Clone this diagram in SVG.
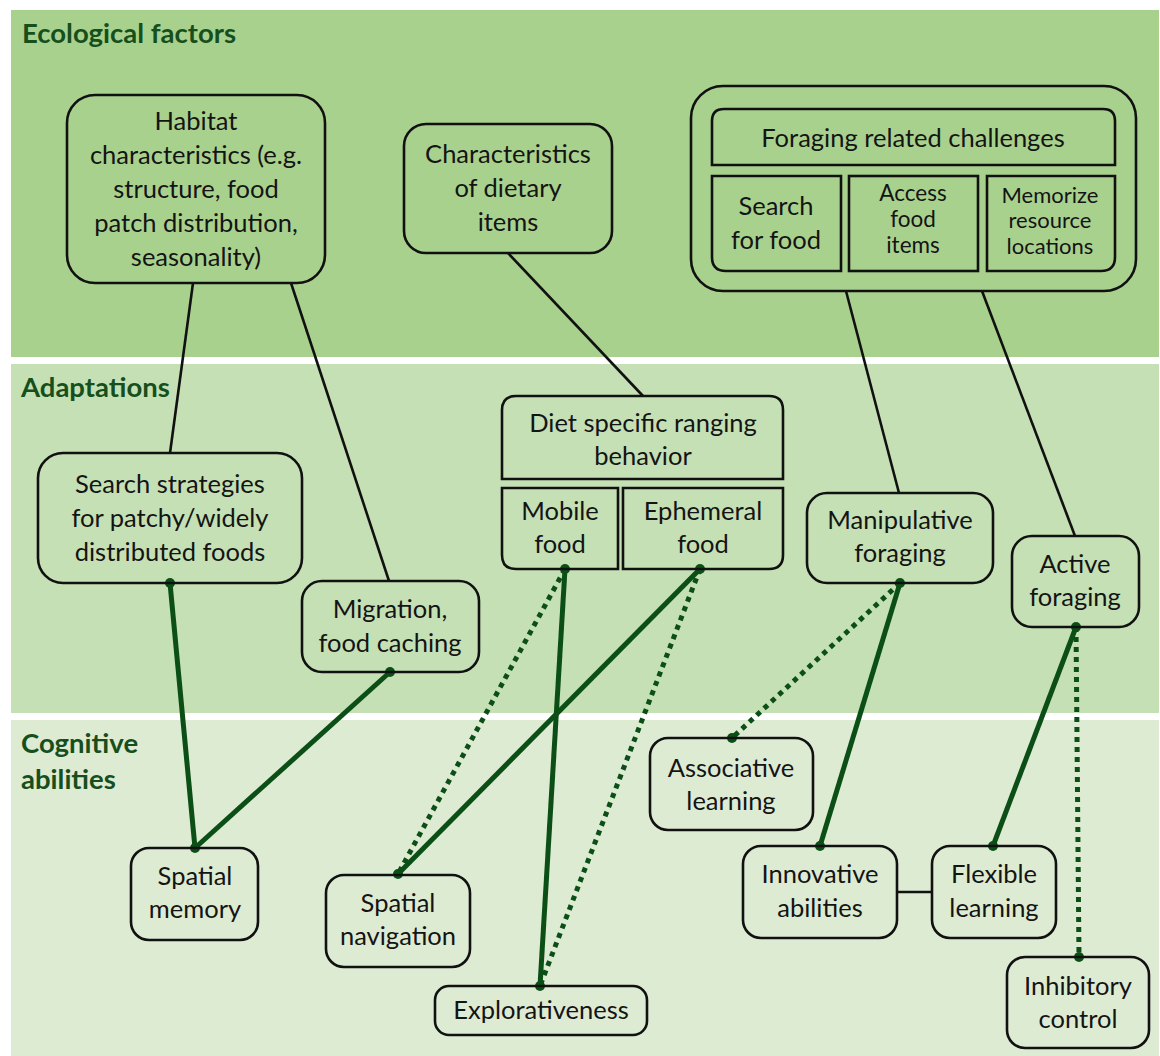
<svg xmlns="http://www.w3.org/2000/svg" width="1160" height="1056" viewBox="0 0 1160 1056">
<style>
.band-title{font-family:Lato,"Liberation Sans",sans-serif;font-weight:bold;font-size:27.5px;fill:#174f1c}
.t{font-family:Lato,"Liberation Sans",sans-serif;font-size:25.5px;fill:#141414;text-anchor:middle}
.ta{font-family:Lato,"Liberation Sans",sans-serif;font-size:22.5px;fill:#141414;text-anchor:middle}
.ts{font-family:Lato,"Liberation Sans",sans-serif;font-size:22px;fill:#141414;text-anchor:middle}
.box{fill:none;stroke:#111;stroke-width:2.6}
.blk{stroke:#111;stroke-width:2.6;fill:none}
.g{stroke:#0b4f17;stroke-width:5;fill:none}
.gd{stroke:#0b4f17;stroke-width:5;fill:none;stroke-dasharray:5 5}
.dot{fill:#0b4f17}
</style>
<rect width="1160" height="1056" fill="#ffffff"/>
<g id="bands">
<rect x="11" y="10" width="1148" height="347" fill="#a9d18e"/>
<rect x="11" y="364" width="1148" height="349" fill="#c5e0b4"/>
<rect x="11" y="720" width="1148" height="336" fill="#deebd3"/>
<text class="band-title" x="22" y="43">Ecological factors</text>
<text class="band-title" x="21" y="397">Adaptations</text>
<text class="band-title" x="21" y="753">Cognitive</text>
<text class="band-title" x="21" y="789">abilities</text>
</g>
<g id="connectors">
<line class="blk" x1="193" y1="283" x2="170" y2="453"/>
<line class="blk" x1="291" y1="283" x2="389" y2="581"/>
<line class="blk" x1="508" y1="253" x2="643" y2="396"/>
<line class="blk" x1="846" y1="291" x2="899" y2="493"/>
<line class="blk" x1="982" y1="291" x2="1075" y2="536"/>
<line class="blk" x1="897" y1="892" x2="932" y2="892"/>
<line class="g" x1="170" y1="583" x2="195" y2="848"/>
<line class="g" x1="390" y1="672" x2="195" y2="848"/>
<line class="gd" x1="565" y1="569" x2="398" y2="874"/>
<line class="g" x1="565" y1="569" x2="540" y2="986"/>
<line class="g" x1="700" y1="569" x2="398" y2="874"/>
<line class="gd" x1="700" y1="569" x2="540" y2="986"/>
<line class="gd" x1="900" y1="583" x2="732" y2="738"/>
<line class="g" x1="900" y1="583" x2="820" y2="846"/>
<line class="g" x1="1076" y1="627" x2="993" y2="846"/>
<line class="gd" x1="1076" y1="627" x2="1079" y2="957"/>
<circle class="dot" cx="170" cy="583" r="5"/>
<circle class="dot" cx="195" cy="848" r="5"/>
<circle class="dot" cx="390" cy="672" r="5"/>
<circle class="dot" cx="565" cy="569" r="5"/>
<circle class="dot" cx="700" cy="569" r="5"/>
<circle class="dot" cx="398" cy="874" r="5"/>
<circle class="dot" cx="540" cy="986" r="5"/>
<circle class="dot" cx="900" cy="583" r="5"/>
<circle class="dot" cx="732" cy="738" r="5"/>
<circle class="dot" cx="820" cy="846" r="5"/>
<circle class="dot" cx="1076" cy="627" r="5"/>
<circle class="dot" cx="993" cy="846" r="5"/>
<circle class="dot" cx="1079" cy="957" r="5"/>
</g>
<g id="habitat">
<rect class="box" x="67" y="95" width="258" height="188" rx="28"/>
<text class="t" x="196" y="130">Habitat</text>
<text class="t" x="196" y="164">characteristics (e.g.</text>
<text class="t" x="196" y="198">structure, food</text>
<text class="t" x="196" y="232">patch distribution,</text>
<text class="t" x="196" y="266">seasonality)</text>
</g>
<g id="dietary">
<rect class="box" x="404" y="124" width="208" height="129" rx="22"/>
<text class="t" x="508" y="163">Characteristics</text>
<text class="t" x="508" y="197">of dietary</text>
<text class="t" x="508" y="231">items</text>
</g>
<g id="foraging-challenges">
<rect class="box" x="691" y="86" width="445" height="205" rx="32"/>
<path class="box" d="M712,165 V121 Q712,109 724,109 H1103 Q1115,109 1115,121 V165 Z"/>
<text class="t" x="913" y="147">Foraging related challenges</text>
<path class="box" d="M712,176 H841 V271 H726 Q712,271 712,257 Z"/>
<text class="t" x="776" y="215">Search</text>
<text class="t" x="776" y="249">for food</text>
<rect class="box" x="849" y="176" width="129" height="95"/>
<text class="ta" x="913" y="201">Access</text>
<text class="ta" x="913" y="227">food</text>
<text class="ta" x="913" y="253">items</text>
<path class="box" d="M987,176 H1115 V257 Q1115,271 1101,271 H987 Z"/>
<text class="ts" x="1050" y="203">Memorize</text>
<text class="ts" x="1050" y="228">resource</text>
<text class="ts" x="1050" y="254">locations</text>
</g>
<g id="search-strategies">
<rect class="box" x="38" y="453" width="264" height="130" rx="25"/>
<text class="t" x="170" y="493">Search strategies</text>
<text class="t" x="170" y="527">for patchy/widely</text>
<text class="t" x="170" y="561">distributed foods</text>
</g>
<g id="migration">
<rect class="box" x="302" y="581" width="177" height="91" rx="20"/>
<text class="t" x="390" y="618">Migration,</text>
<text class="t" x="390" y="652">food caching</text>
</g>
<g id="diet-ranging">
<path class="box" d="M502,479 V410 Q502,396 516,396 H769 Q783,396 783,410 V479 Z"/>
<text class="t" x="643" y="432">Diet specific ranging</text>
<text class="t" x="643" y="465">behavior</text>
<path class="box" d="M502,488 H618 V569 H516 Q502,569 502,555 Z"/>
<text class="t" x="560" y="520">Mobile</text>
<text class="t" x="560" y="553">food</text>
<path class="box" d="M623,488 H783 V555 Q783,569 769,569 H623 Z"/>
<text class="t" x="703" y="520">Ephemeral</text>
<text class="t" x="703" y="553">food</text>
</g>
<g id="manipulative">
<rect class="box" x="807" y="493" width="186" height="90" rx="20"/>
<text class="t" x="900" y="529">Manipulative</text>
<text class="t" x="900" y="562">foraging</text>
</g>
<g id="active">
<rect class="box" x="1012" y="536" width="127" height="91" rx="20"/>
<text class="t" x="1075" y="573">Active</text>
<text class="t" x="1075" y="606">foraging</text>
</g>
<g id="spatial-memory">
<rect class="box" x="131" y="848" width="127" height="92" rx="18"/>
<text class="t" x="195" y="885">Spatial</text>
<text class="t" x="195" y="918">memory</text>
</g>
<g id="spatial-navigation">
<rect class="box" x="326" y="875" width="144" height="92" rx="18"/>
<text class="t" x="398" y="912">Spatial</text>
<text class="t" x="398" y="945">navigation</text>
</g>
<g id="explorativeness">
<rect class="box" x="435" y="986" width="212" height="49" rx="14"/>
<text class="t" x="541" y="1019">Explorativeness</text>
</g>
<g id="associative">
<rect class="box" x="650" y="738" width="163" height="92" rx="18"/>
<text class="t" x="731" y="777">Associative</text>
<text class="t" x="731" y="810">learning</text>
</g>
<g id="innovative">
<rect class="box" x="743" y="846" width="154" height="92" rx="18"/>
<text class="t" x="820" y="883">Innovative</text>
<text class="t" x="820" y="917">abilities</text>
</g>
<g id="flexible">
<rect class="box" x="932" y="846" width="124" height="92" rx="18"/>
<text class="t" x="994" y="883">Flexible</text>
<text class="t" x="994" y="917">learning</text>
</g>
<g id="inhibitory">
<rect class="box" x="1007" y="957" width="142" height="91" rx="18"/>
<text class="t" x="1078" y="995">Inhibitory</text>
<text class="t" x="1078" y="1028">control</text>
</g>
</svg>
